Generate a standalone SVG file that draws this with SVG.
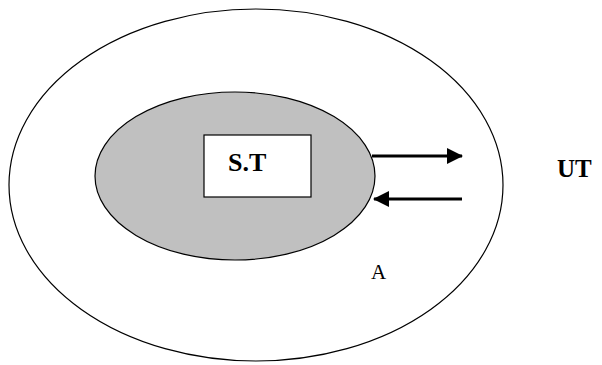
<svg xmlns="http://www.w3.org/2000/svg" width="602" height="365" viewBox="0 0 602 365">
<style>
.outline{stroke:#000;stroke-width:1.2}
.t{font-family:"Liberation Serif","Times New Roman",serif;fill:#000}
.arrow{stroke:#000;stroke-width:3;fill:none}
</style>
<defs>
<marker id="ah" markerWidth="16" markerHeight="16" refX="15" refY="8" orient="auto" markerUnits="userSpaceOnUse">
<path d="M0,0 L16,8 L0,16 Z" fill="#000"/>
</marker>
</defs>
<rect width="602" height="365" fill="#fff"/>
<g id="outer">
<ellipse class="outline" cx="256" cy="185" rx="247" ry="176" fill="#fff"/>
<text class="t" x="371" y="279" font-size="21">A</text>
</g>
<g id="inner">
<ellipse class="outline" cx="235" cy="176" rx="140" ry="84" fill="#c0c0c0"/>
</g>
<g id="st">
<rect class="outline" x="204" y="135" width="107" height="62" fill="#fff"/>
<text class="t" x="228" y="171" font-size="26" font-weight="bold">S.T</text>
</g>
<g id="ut">
<text class="t" x="557" y="177" font-size="25" font-weight="bold">UT</text>
</g>
<g id="connectors">
<line class="arrow" x1="372" y1="156" x2="462" y2="156" marker-end="url(#ah)"/>
<line class="arrow" x1="462" y1="199" x2="374" y2="199" marker-end="url(#ah)"/>
</g>
</svg>
